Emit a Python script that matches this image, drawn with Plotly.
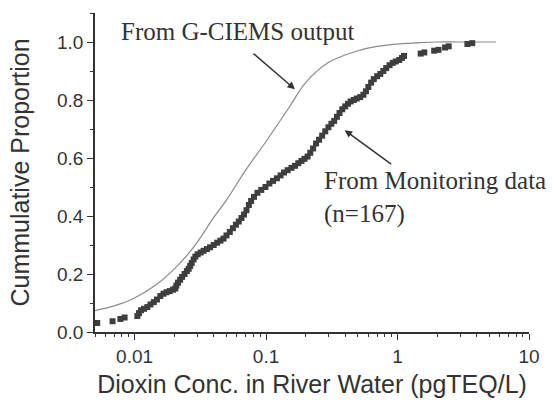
import plotly.graph_objects as go

# G-CIEMS model output (smooth cumulative curve)
gciems_x = [0.005, 0.007, 0.01, 0.015, 0.02, 0.025, 0.03, 0.04, 0.05, 0.07, 0.1,
            0.15, 0.2, 0.3, 0.5, 0.7, 1.0, 1.5, 2.0, 3.0, 4.0, 5.6]
gciems_y = [0.074, 0.09, 0.117, 0.167, 0.217, 0.264, 0.31, 0.395, 0.455, 0.558, 0.657,
            0.775, 0.86, 0.93, 0.97, 0.985, 0.993, 0.998, 1.0, 1.0, 1.0, 1.0]

# Monitoring data (empirical cumulative proportion, n=167)
monitor_x = [0.0052, 0.0068, 0.0078, 0.0084,
             0.0105, 0.0108, 0.0112, 0.0118, 0.0125, 0.0132, 0.0140, 0.0148, 0.0157, 0.0166,
             0.0175, 0.0185, 0.0196, 0.0204, 0.0208, 0.0214, 0.0222, 0.0230, 0.0240, 0.0250,
             0.0258, 0.0265, 0.0272, 0.0281, 0.0290, 0.0302, 0.0318, 0.0335, 0.0355, 0.0375,
             0.0400, 0.0425, 0.0450, 0.0475, 0.0500, 0.0530, 0.0560, 0.0590, 0.0620, 0.0650,
             0.0680, 0.0710, 0.0740, 0.0770, 0.0810, 0.0860, 0.0920, 0.0990, 0.1060, 0.1130,
             0.1210, 0.1290, 0.1370, 0.1460, 0.1560, 0.1660, 0.1760, 0.1860, 0.1960, 0.2070,
             0.2170, 0.2280, 0.2400, 0.2530, 0.2670, 0.2820, 0.2980, 0.3140, 0.3300, 0.3460,
             0.3620, 0.3800, 0.4000, 0.4200, 0.4400, 0.4650, 0.4900, 0.5200, 0.5500, 0.5750,
             0.6000, 0.6300, 0.6600, 0.7000, 0.7400, 0.7800, 0.8200, 0.8700, 0.9200, 0.9700,
             1.0300, 1.0800, 1.1200,
             1.50, 1.60, 1.90, 2.05, 2.30, 2.45, 3.40, 3.70]
monitor_y = [0.031, 0.037, 0.045, 0.050,
             0.055, 0.065, 0.075, 0.080, 0.086, 0.095, 0.103, 0.112, 0.124, 0.132,
             0.137, 0.141, 0.146, 0.150, 0.160, 0.170, 0.180, 0.190, 0.200, 0.210,
             0.218, 0.228, 0.238, 0.250, 0.260, 0.268, 0.274, 0.280, 0.286, 0.292,
             0.300, 0.308, 0.315, 0.322, 0.333, 0.345, 0.358, 0.370, 0.381, 0.393,
             0.405, 0.420, 0.438, 0.452, 0.466, 0.480, 0.490, 0.500, 0.512, 0.521,
             0.530, 0.540, 0.550, 0.558, 0.566, 0.573, 0.582, 0.590, 0.597, 0.605,
             0.618, 0.633, 0.650, 0.663, 0.677, 0.692, 0.706, 0.718, 0.728, 0.742,
             0.755, 0.768, 0.778, 0.787, 0.795, 0.800, 0.805, 0.810, 0.818, 0.830,
             0.845, 0.860, 0.872, 0.882, 0.890, 0.900, 0.910, 0.920, 0.928, 0.933,
             0.938, 0.945, 0.952,
             0.960, 0.964, 0.970, 0.973, 0.981, 0.985, 0.993, 0.996]

x_tickvals = [0.01, 0.1, 1, 10]
x_ticktext = ["0.01", "0.1", "1", "10"]
y_tickvals = [0.0, 0.2, 0.4, 0.6, 0.8, 1.0]
y_ticktext = ["0.0", "0.2", "0.4", "0.6", "0.8", "1.0"]

fig = go.Figure()
fig.add_trace(go.Scatter(x=gciems_x, y=gciems_y, mode="lines", line_shape="spline",
                         line=dict(color="#8a8a8a", width=1.2), showlegend=False))
fig.add_trace(go.Scatter(x=monitor_x, y=monitor_y, mode="markers",
                         marker=dict(symbol="square", size=6, color="#3e3e3e",
                                     line=dict(width=0)), showlegend=False))

sans = "Liberation Sans, Arial, sans-serif"
serif = "Liberation Serif, Times New Roman, serif"

fig.update_xaxes(type="log", range=[-2.301, 1], tickvals=x_tickvals, ticktext=x_ticktext,
                 showgrid=False, zeroline=False, showline=True, linecolor="#333", linewidth=1.5,
                 ticks="outside", ticklen=6, tickwidth=1.3, tickcolor="#333",
                 minor=dict(ticks="outside", ticklen=3, tickwidth=1, tickcolor="#333", dtick="D1", showgrid=False),
                 tickfont=dict(family=sans, size=19, color="#333"),
                 title=dict(text="Dioxin Conc. in River Water (pgTEQ/L)",
                            font=dict(family=sans, size=25, color="#333"), standoff=10))
fig.update_yaxes(range=[0, 1.1], tickvals=y_tickvals, ticktext=y_ticktext,
                 showgrid=False, zeroline=False, showline=True, linecolor="#333", linewidth=1.5,
                 ticks="outside", ticklen=6, tickwidth=1.3, tickcolor="#333",
                 minor=dict(ticks="outside", ticklen=3, tickwidth=1, tickcolor="#333", dtick=0.1, showgrid=False),
                 tickfont=dict(family=sans, size=19, color="#333"),
                 title=dict(text="Cummulative Proportion",
                            font=dict(family=sans, size=25, color="#333"), standoff=20))

fig.add_annotation(xref="paper", yref="paper", x=0.056, y=0.942, xanchor="left", yanchor="middle",
                   text="From G-CIEMS output", showarrow=False,
                   font=dict(family=serif, size=25, color="#333"))
fig.add_annotation(xref="paper", yref="paper", x=0.524, y=0.522, xanchor="left", yanchor="top",
                   align="left", text="From Monitoring data<br>(n=167)", showarrow=False,
                   font=dict(family=serif, size=25, color="#333"))
fig.add_annotation(x=-0.78, y=0.837, xref="x", yref="y", text="", showarrow=True,
                   ax=-43, ay=-37, axref="pixel", ayref="pixel",
                   arrowhead=2, arrowsize=1, arrowwidth=1.5, arrowcolor="#333", standoff=0)
fig.add_annotation(x=-0.402, y=0.696, xref="x", yref="y", text="", showarrow=True,
                   ax=48, ay=35, axref="pixel", ayref="pixel",
                   arrowhead=2, arrowsize=1, arrowwidth=1.5, arrowcolor="#333", standoff=0)

fig.update_layout(width=552, height=406, margin=dict(l=95, r=22, t=13, b=71),
                  paper_bgcolor="white", plot_bgcolor="white")

fig.write_html("out.html", config={"displayModeBar": False},
               post_script="document.body.style.margin='0';")
